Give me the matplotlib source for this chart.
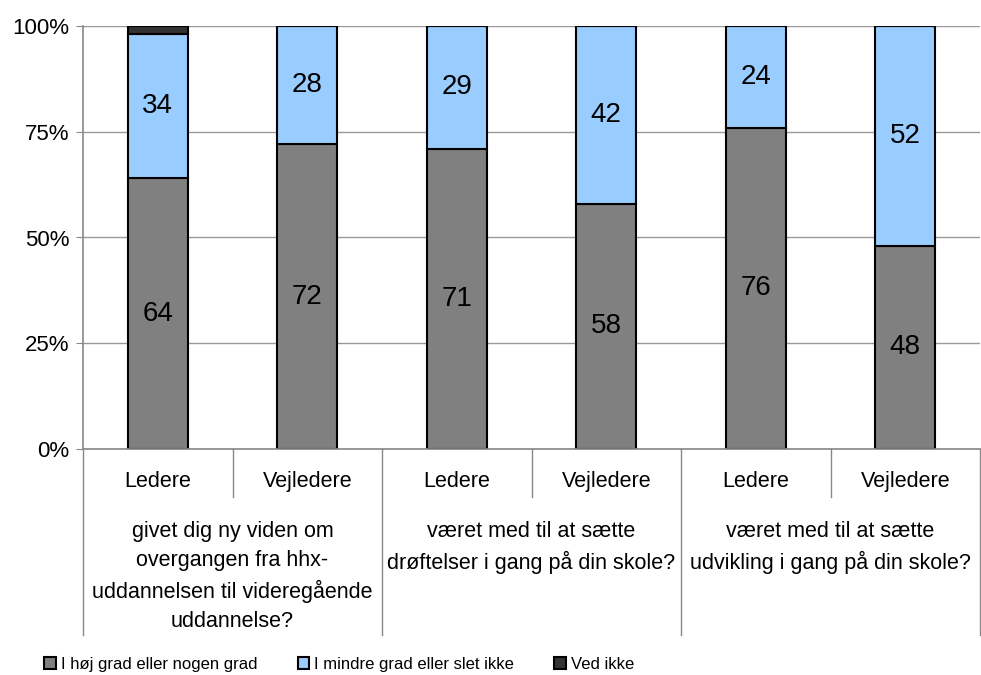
import matplotlib.pyplot as plt
import numpy as np

plt.rcParams['font.family'] = ['Liberation Sans', 'DejaVu Sans']

roles = ['Ledere', 'Vejledere', 'Ledere', 'Vejledere', 'Ledere', 'Vejledere']
groups = ['givet dig ny viden om\novergangen fra hhx-\nuddannelsen til videregående\nuddannelse?',
          'været med til at sætte\ndrøftelser i gang på din skole?',
          'været med til at sætte\nudvikling i gang på din skole?']
hoj = [64, 72, 71, 58, 76, 48]
mindre = [34, 28, 29, 42, 24, 52]
ved_ikke = [2, 0, 0, 0, 0, 0]
series_names = ['I høj grad eller nogen grad', 'I mindre grad eller slet ikke', 'Ved ikke']
colors = ['#808080', '#99CCFF', '#333333']

fig = plt.figure(figsize=(9.81, 6.75), dpi=100)
ax = fig.add_axes([83 / 981, 1 - 449 / 675, 1 - 83 / 981 - 0.001, 423 / 675])

x = np.arange(len(roles))
hoj = np.array(hoj)
mindre = np.array(mindre)
ved_ikke = np.array(ved_ikke)

ax.set_axisbelow(True)
b1 = ax.bar(x, hoj, 0.4, color=colors[0], edgecolor='black', linewidth=1.5, label=series_names[0])
b2 = ax.bar(x, mindre, 0.4, bottom=hoj, color=colors[1], edgecolor='black', linewidth=1.5, label=series_names[1])
b3 = ax.bar(x, ved_ikke, 0.4, bottom=hoj + mindre, color=colors[2], edgecolor='black', linewidth=1.5, label=series_names[2])

for i in range(len(x)):
    ax.text(x[i], hoj[i] / 2, str(hoj[i]), ha='center', va='center', fontsize=20)
    ax.text(x[i], hoj[i] + mindre[i] / 2, str(mindre[i]), ha='center', va='center', fontsize=20)

ax.set_xlim(-0.5, 5.5)
ax.set_ylim(0, 100)
ax.set_yticks([0, 25, 50, 75, 100])
ax.set_yticklabels(['0%', '25%', '50%', '75%', '100%'], fontsize=16)
ax.set_xticks([])
ax.yaxis.grid(True, color='#999999', linewidth=1)
ax.tick_params(axis='y', direction='out', length=5, color='#888888', pad=5)
for s in ['top', 'right']:
    ax.spines[s].set_visible(False)
ax.spines['left'].set_color('#888888')
ax.spines['bottom'].set_color('#888888')
ax.spines['left'].set_linewidth(1.2)
ax.spines['bottom'].set_linewidth(1.2)

trans = ax.get_xaxis_transform()
for i, r in enumerate(roles):
    ax.text(x[i], -0.076, r, transform=trans, ha='center', va='center', fontsize=15.5)
for g, label in enumerate(groups):
    ax.text(2 * g + 0.5, -0.17, label, transform=trans, ha='center', va='top',
            fontsize=15.5, linespacing=1.5)

for xs in [0.5, 2.5, 4.5]:
    ax.plot([xs, xs], [0, -0.113], transform=trans, color='#888888', linewidth=1, clip_on=False)
for xs in [-0.5, 1.5, 3.5, 5.5]:
    ax.plot([xs, xs], [0, -0.44], transform=trans, color='#888888', linewidth=1, clip_on=False)

fig.legend(handles=[b1, b2, b3], loc='lower left', bbox_to_anchor=(0.03, -0.018), ncol=3,
           frameon=False, fontsize=12, handlelength=0.7, handleheight=0.7,
           handletextpad=0.3, columnspacing=2.4)

fig.savefig('out.png', dpi=100)
